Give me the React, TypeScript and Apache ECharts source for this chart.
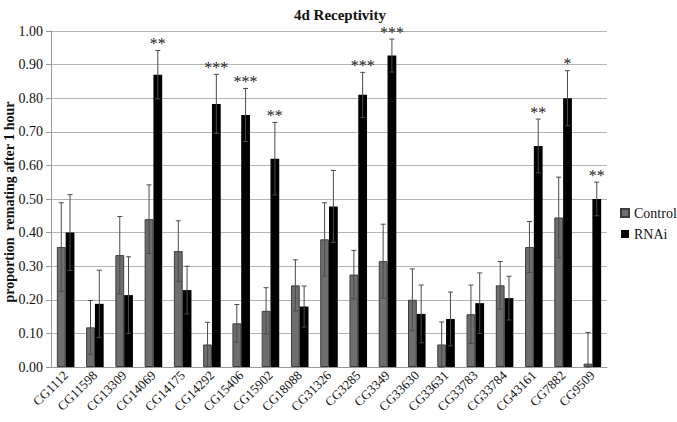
import React, { useEffect, useRef } from "react";
import * as echarts from "echarts";

const categories = [
  "CG1112", "CG11598", "CG13309", "CG14069", "CG14175", "CG14292", "CG15406",
  "CG15902", "CG18088", "CG31326", "CG3285", "CG3349", "CG33630", "CG33631",
  "CG33783", "CG33784", "CG43161", "CG7882", "CG9509",
];
const controlValues = [0.357, 0.118, 0.333, 0.44, 0.345, 0.067, 0.13, 0.167, 0.243, 0.38, 0.275, 0.315, 0.2, 0.067, 0.157, 0.243, 0.357, 0.445, 0.01];
const controlErrors = [0.132, 0.08, 0.115, 0.102, 0.09, 0.066, 0.056, 0.069, 0.076, 0.109, 0.072, 0.11, 0.092, 0.067, 0.087, 0.071, 0.076, 0.12, 0.093];
const rnaiValues = [0.4, 0.188, 0.214, 0.87, 0.229, 0.783, 0.75, 0.62, 0.18, 0.478, 0.81, 0.927, 0.158, 0.143, 0.19, 0.205, 0.658, 0.8, 0.5];
const rnaiErrors = [0.113, 0.1, 0.114, 0.072, 0.071, 0.088, 0.079, 0.108, 0.061, 0.107, 0.067, 0.049, 0.086, 0.08, 0.09, 0.065, 0.08, 0.082, 0.05];
const significance = ["", "", "", "**", "", "***", "***", "**", "", "", "***", "***", "", "", "", "", "**", "*", "**"];
const yTicks = [0, 0.1, 0.2, 0.3, 0.4, 0.5, 0.6, 0.7, 0.8, 0.9, 1.0];

const FONT = "'Liberation Serif', 'Times New Roman', serif";
const BAR_FRAC = 0.3;

function errorSeries(name: string, values: number[], errors: number[], side: number) {
  return {
    type: "custom",
    name: name + " err",
    z: 5,
    silent: true,
    encode: { x: 0, y: 1 },
    data: values.map((v, i) => [i, v, errors[i]]),
    renderItem: (params: any, api: any) => {
      const idx = api.value(0);
      const v = api.value(1);
      const e = api.value(2);
      const x = api.coord([idx, 0])[0];
      const band = api.size([1, 0])[0];
      const bw = band * BAR_FRAC;
      const cx = x + (side * bw) / 2;
      const yTop = api.coord([idx, v + e])[1];
      const yBot = api.coord([idx, Math.max(0, v - e)])[1];
      const cap = 2.5;
      const style = { stroke: "#4a4a4a", lineWidth: 1 };
      return {
        type: "group",
        children: [
          { type: "line", shape: { x1: cx, y1: yTop, x2: cx, y2: yBot }, style },
          { type: "line", shape: { x1: cx - cap, y1: yTop, x2: cx + cap, y2: yTop }, style },
          { type: "line", shape: { x1: cx - cap, y1: yBot, x2: cx + cap, y2: yBot }, style },
        ],
      };
    },
  };
}

export default function App() {
  const ref = useRef<HTMLDivElement>(null);
  useEffect(() => {
    if (!ref.current) return;
    const chart = echarts.init(ref.current, null, { renderer: "svg" });
    chart.setOption({
      animation: false,
      textStyle: { fontFamily: FONT },
      title: {
        text: "4d Receptivity",
        left: 335,
        textAlign: "center",
        top: 2,
        textStyle: { fontFamily: FONT, fontWeight: "bold", fontSize: 15, color: "#111" },
      },
      legend: {
        orient: "vertical",
        left: 620,
        top: 206,
        padding: 0,
        itemWidth: 8,
        itemHeight: 8,
        itemGap: 7,
        icon: "rect",
        data: ["Control", "RNAi"],
        textStyle: { fontFamily: FONT, fontSize: 14, color: "#111" },
      },
      grid: { left: 51, right: 70, top: 31, bottom: 55 },
      xAxis: {
        type: "category",
        data: categories,
        axisTick: { show: false },
        axisLine: { lineStyle: { color: "#999" } },
        axisLabel: {
          rotate: 45,
          interval: 0,
          margin: 6,
          fontFamily: FONT,
          fontSize: 13,
          color: "#111",
        },
      },
      yAxis: {
        type: "value",
        min: 0,
        max: 1,
        interval: 0.1,
        axisLine: { show: true, lineStyle: { color: "#999" } },
        axisTick: { show: true, length: 5, lineStyle: { color: "#999" } },
        splitLine: { lineStyle: { color: "#b4b4b4" } },
        axisLabel: {
          fontFamily: FONT,
          fontSize: 14,
          color: "#111",
          margin: 8,
          formatter: (v: number) => {
            const t = yTicks.find((k) => Math.abs(k - v) < 1e-6);
            return (t !== undefined ? t : v).toFixed(2);
          },
        },
      },
      graphic: [
        {
          type: "text",
          x: 9,
          y: 202,
          rotation: Math.PI / 2,
          style: {
            text: "proportion  remating after 1 hour",
            fontFamily: FONT,
            fontWeight: "bold",
            fontSize: 14,
            fill: "#111",
            textAlign: "center",
            textVerticalAlign: "middle",
          },
        },
      ],
      series: [
        {
          name: "Control",
          type: "bar",
          data: controlValues,
          barWidth: "30%",
          barGap: "0%",
          itemStyle: { color: "#6e6e6e", borderColor: "#3c3c3c", borderWidth: 1 },
        },
        {
          name: "RNAi",
          type: "bar",
          data: rnaiValues,
          barWidth: "30%",
          barGap: "0%",
          itemStyle: { color: "#000" },
        },
        errorSeries("Control", controlValues, controlErrors, -1),
        errorSeries("RNAi", rnaiValues, rnaiErrors, 1),
        {
          type: "custom",
          name: "sig",
          z: 6,
          silent: true,
          encode: { x: 0, y: 1 },
          data: rnaiValues.map((v, i) => [i, v + rnaiErrors[i], significance[i]]),
          renderItem: (params: any, api: any) => {
            const idx = api.value(0);
            const top = api.value(1);
            const label = significance[params.dataIndex];
            const x = api.coord([idx, 0])[0];
            const band = api.size([1, 0])[0];
            const cx = x + (band * BAR_FRAC) / 2;
            const y = api.coord([idx, top])[1];
            return {
              type: "text",
              x: cx,
              y: y + 1,
              style: {
                text: label,
                fontFamily: FONT,
                fontSize: 16,
                fill: "#222",
                textAlign: "center",
                textVerticalAlign: "bottom",
              },
            };
          },
        },
      ],
    });
    return () => chart.dispose();
  }, []);
  return (
    <div
      ref={ref}
      style={{ position: "absolute", left: 0, top: 0, width: 677, height: 422 }}
    />
  );
}
